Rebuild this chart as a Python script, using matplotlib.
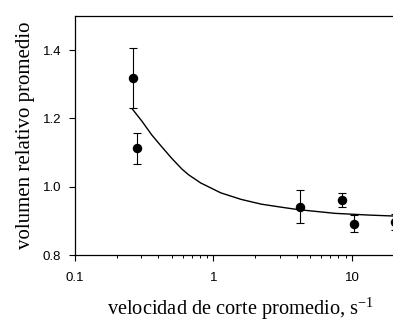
import matplotlib
matplotlib.use("Agg")
import matplotlib.pyplot as plt
from matplotlib.ticker import LogLocator, FixedLocator, NullFormatter

plt.rcParams["mathtext.fontset"] = "custom"
plt.rcParams["mathtext.rm"] = "Liberation Serif"

# measured points (mean +/- error)
shear_rate = [0.261, 0.280, 4.24, 8.53, 10.4, 20.4]
rel_volume = [1.319, 1.112, 0.941, 0.962, 0.891, 0.897]
rel_err = [0.088, 0.045, 0.048, 0.020, 0.025, 0.023]

# fitted curve
fit_x = [0.259, 0.303, 0.358, 0.423, 0.500, 0.591, 0.661, 0.809, 1.13,
         1.58, 2.21, 3.09, 4.08, 7.54, 13.2, 20.4, 25.0]
fit_y = [1.228, 1.193, 1.152, 1.117, 1.083, 1.052, 1.035, 1.011, 0.982,
         0.963, 0.949, 0.940, 0.933, 0.922, 0.917, 0.914, 0.912]

y_ticks = [0.8, 1.0, 1.2, 1.4]

fig = plt.figure(figsize=(3.93, 3.22), dpi=100)
ax = fig.add_axes([75 / 393, 67 / 322, 332 / 393, 239 / 322])

ax.plot(fit_x, fit_y, color="black", linewidth=1.0)
ax.errorbar(shear_rate, rel_volume, yerr=rel_err, fmt="o", color="black",
            markersize=5.8, elinewidth=0.8, capsize=2.7, capthick=0.8)

ax.set_xscale("log")
ax.set_xlim(0.1, 25)
ax.set_ylim(0.8, 1.5)
ax.yaxis.set_major_locator(FixedLocator(y_ticks))
ax.set_yticklabels([f"{v:.1f}" for v in y_ticks])
ax.xaxis.set_minor_locator(LogLocator(base=10, subs=range(2, 10)))
ax.xaxis.set_minor_formatter(NullFormatter())
ax.set_xticks([0.1, 1, 10])
ax.set_xticklabels(["0.1", "1", "10"])

for lab in ax.get_xticklabels() + ax.get_yticklabels():
    lab.set_family("Liberation Sans")
    lab.set_fontsize(9.5)

ax.tick_params(which="major", direction="out", length=4, width=0.8)
ax.tick_params(axis="y", pad=6)
ax.tick_params(axis="x", pad=8)
ax.tick_params(which="minor", direction="out", length=2.5, width=0.7)
for sp in ax.spines.values():
    sp.set_linewidth(0.9)

ax.set_xlabel("velocidad de corte promedio, s$^{-1}$",
              family="Liberation Serif", fontsize=14.7)
ax.xaxis.label.set_va("baseline")
ax.xaxis.set_label_coords(0.5, -60 / 239)
ax.set_ylabel("volumen relativo promedio",
              family="Liberation Serif", fontsize=15)
ax.yaxis.label.set_va("center")
ax.yaxis.set_label_coords(-49 / 332, 0.5)

fig.savefig("out.png", dpi=100)
